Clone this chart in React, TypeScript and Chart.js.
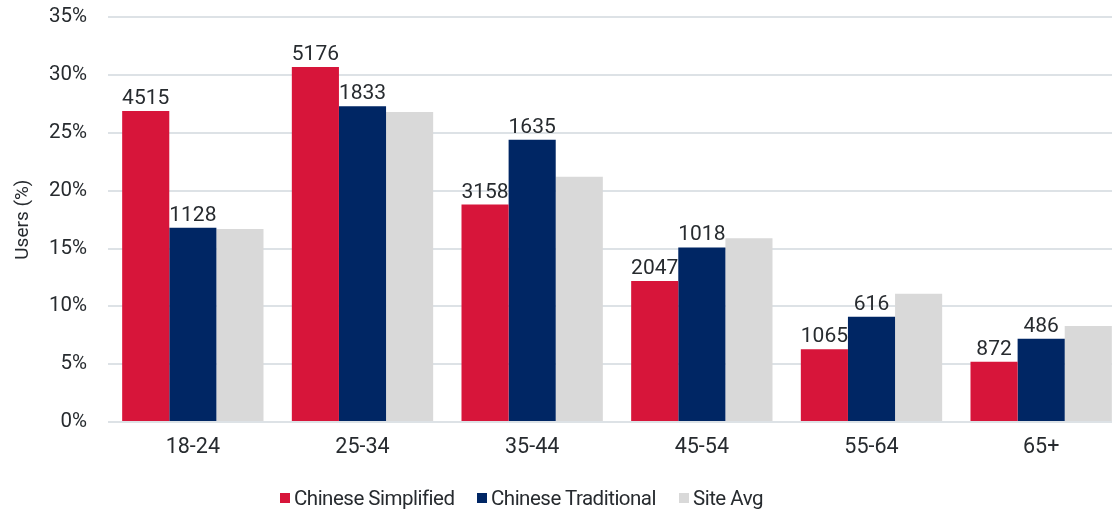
import React, { useEffect, useRef } from "react";
import { Chart, registerables } from "chart.js";

Chart.register(...registerables);

const categories = ["18-24", "25-34", "35-44", "45-54", "55-64", "65+"];
const seriesNames = ["Chinese Simplified", "Chinese Traditional", "Site Avg"];
const simplifiedPct = [26.9, 30.7, 18.8, 12.2, 6.3, 5.2];
const traditionalPct = [16.8, 27.3, 24.4, 15.1, 9.1, 7.2];
const siteAvgPct = [16.7, 26.8, 21.2, 15.9, 11.1, 8.3];
const simplifiedCounts = [4515, 5176, 3158, 2047, 1065, 872];
const traditionalCounts = [1128, 1833, 1635, 1018, 616, 486];
const yMax = 35;
const yStep = 5;
const yTitle = "Users (%)";

const COLORS = ["#D7153A", "#002664", "#D9D9D9"];
const TEXT = "#272B2F";
const GRID = "#DDE2E6";
const FONT = "Roboto";

const CANVAS_W = 1140;
const CANVAS_H = 526;
const CANVAS_TOP = -16;

const labelPlugin = {
  id: "barCountLabels",
  afterDatasetsDraw(chart: any) {
    const ctx = chart.ctx;
    ctx.save();
    ctx.font = `21px ${FONT}`;
    ctx.fillStyle = TEXT;
    ctx.textAlign = "center";
    ctx.textBaseline = "alphabetic";
    [simplifiedCounts, traditionalCounts].forEach((counts, di) => {
      const meta = chart.getDatasetMeta(di);
      meta.data.forEach((bar: any, i: number) => {
        ctx.fillText(String(counts[i]), bar.x, bar.y - 7);
      });
    });
    ctx.restore();
  },
};

export default function App() {
  const ref = useRef<HTMLCanvasElement>(null);

  useEffect(() => {
    document.body.style.margin = "0";
    const canvas = ref.current!;
    const chart = new Chart(canvas, {
      type: "bar",
      data: {
        labels: categories,
        datasets: [
          { label: seriesNames[0], data: simplifiedPct, backgroundColor: COLORS[0] },
          { label: seriesNames[1], data: traditionalPct, backgroundColor: COLORS[1] },
          { label: seriesNames[2], data: siteAvgPct, backgroundColor: COLORS[2] },
        ],
      },
      options: {
        responsive: false,
        animation: false,
        layout: { padding: { top: 0, right: CANVAS_W - 1126, bottom: 0, left: 0 } },
        datasets: {
          bar: { categoryPercentage: 0.833, barPercentage: 1, borderWidth: 0 },
        },
        plugins: {
          legend: { display: false },
          tooltip: { enabled: false },
        },
        scales: {
          x: {
            grid: { display: false, drawTicks: false },
            border: { display: false },
            ticks: { color: TEXT, font: { family: FONT, size: 21.5 }, padding: 13 },
            afterFit(scale: any) {
              scale.height = 88;
            },
          },
          y: {
            min: 0,
            max: yMax,
            grid: { color: GRID, lineWidth: 2, drawTicks: false },
            border: { display: false },
            ticks: {
              stepSize: yStep,
              color: TEXT,
              font: { family: FONT, size: 20.5 },
              padding: 21,
              callback: (v: any) => `${v}%`,
            },
            title: {
              display: true,
              text: yTitle,
              color: TEXT,
              font: { family: FONT, size: 19 },
              padding: { top: 12, bottom: 0 },
            },
            afterFit(scale: any) {
              scale.width = 108;
            },
          },
        },
      },
      plugins: [labelPlugin],
    });
    return () => chart.destroy();
  }, []);

  const legendX = [280, 477, 679];

  return (
    <div
      style={{
        position: "fixed",
        left: 0,
        top: 0,
        width: 1112,
        height: 510,
        overflow: "hidden",
        background: "#fff",
      }}
    >
      <canvas
        ref={ref}
        width={CANVAS_W}
        height={CANVAS_H}
        style={{ position: "absolute", left: 0, top: CANVAS_TOP, width: CANVAS_W, height: CANVAS_H }}
      />
      {seriesNames.map((name, i) => (
        <div
          key={name}
          style={{
            position: "absolute",
            left: legendX[i],
            top: 486,
            display: "flex",
            alignItems: "center",
            fontFamily: FONT,
            fontSize: 20.5,
            lineHeight: "24px",
            letterSpacing: "-0.5px",
            color: TEXT,
            whiteSpace: "nowrap",
          }}
        >
          <span style={{ width: 10, height: 10, background: COLORS[i], display: "inline-block" }} />
          <span style={{ marginLeft: 4 }}>{name}</span>
        </div>
      ))}
    </div>
  );
}
